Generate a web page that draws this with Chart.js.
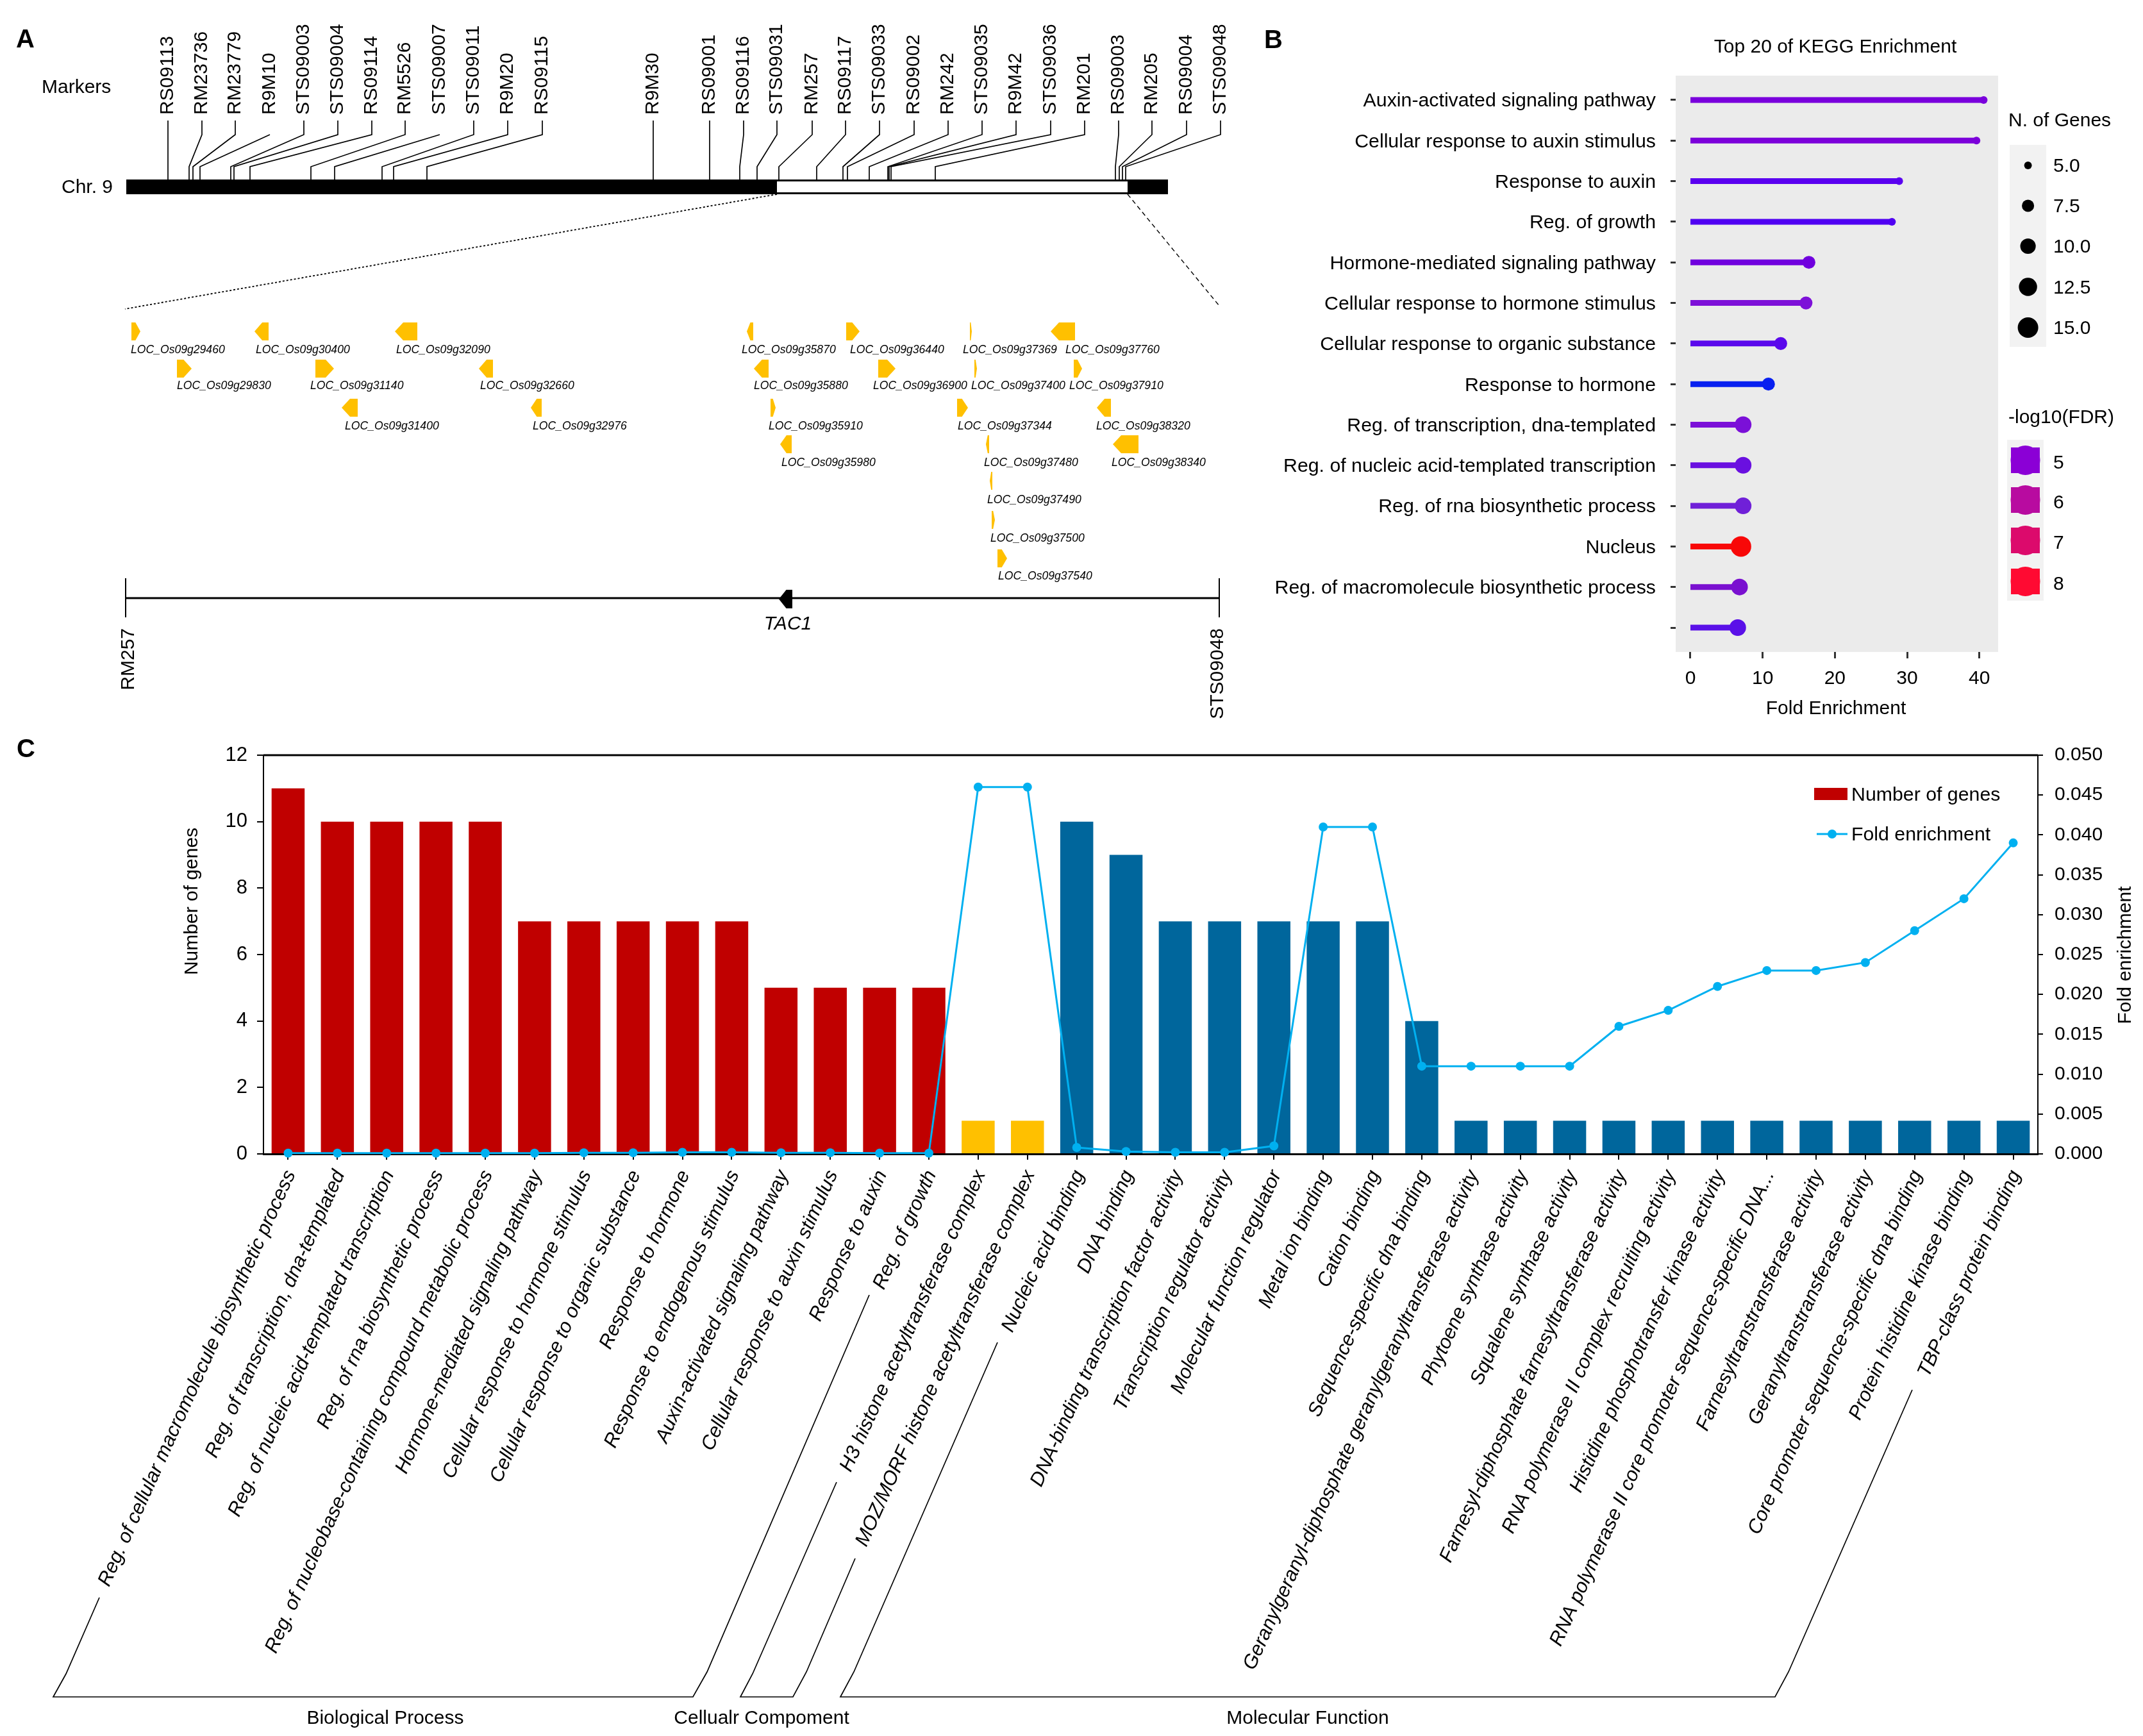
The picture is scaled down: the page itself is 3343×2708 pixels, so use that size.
<!DOCTYPE html>
<html><head><meta charset="utf-8">
<script src="https://cdn.jsdelivr.net/npm/chart.js@4"></script>
<style>html,body{margin:0;padding:0;background:#fff}canvas{position:absolute;left:0;top:0}</style>
</head><body>
<canvas id="panelA" width="3343" height="2708"></canvas>
<canvas id="panelB" width="3343" height="2708"></canvas>
<canvas id="panelC" width="3343" height="2708"></canvas>
<script>
// ---------- Panel A data (schematic map, values in map units) ----------
const markerNames = ["RS09113","RM23736","RM23779","R9M10","STS09003","STS09004","RS09114","RM5526","STS09007","STS09011","R9M20","RS09115","R9M30","RS09001","RS09116","STS09031","RM257","RS09117","STS09033","RS09002","RM242","STS09035","R9M42","STS09036","RM201","RS09003","RM205","RS09004","STS09048"];
const markerLabelPos = [262,315,367,421,474,527,580,632,686,739,792,846,1019,1107,1160,1212,1267,1319,1372,1426,1479,1532,1585,1639,1692,1745,1797,1851,1904];
const markerChromPos = [262,295,301,312,360,365,390,485,522,596,614,666,1019,1107,1154,1181,1215,1274,1315,1322,1356,1385,1387,1390,1459,1740,1746,1751,1756];
const markerNoStem = ["R9M10","STS09007"];
const chromSpan = [197,1822];
const regionSpan = [1212,1759];
const geneNames = ["LOC_Os09g29460","LOC_Os09g30400","LOC_Os09g32090","LOC_Os09g35870","LOC_Os09g36440","LOC_Os09g37369","LOC_Os09g37760","LOC_Os09g29830","LOC_Os09g31140","LOC_Os09g32660","LOC_Os09g35880","LOC_Os09g36900","LOC_Os09g37400","LOC_Os09g37910","LOC_Os09g31400","LOC_Os09g32976","LOC_Os09g35910","LOC_Os09g37344","LOC_Os09g38320","LOC_Os09g35980","LOC_Os09g37480","LOC_Os09g38340","LOC_Os09g37490","LOC_Os09g37500","LOC_Os09g37540"];
const geneStart = [205,397,616,1165,1320,1513,1639,276,492,747,1176,1370,1520,1675,533,828,1202,1493,1711,1217,1538,1736,1544,1547,1556];
const geneEnd   = [219,419,651,1175,1341,1516,1677,299,521,769,1199,1397,1524,1688,558,845,1210,1510,1733,1235,1543,1776,1548,1552,1571];
const geneStrand= [1,-1,-1,-1,1,1,-1,1,1,-1,-1,1,1,1,-1,-1,1,1,-1,-1,-1,-1,-1,1,1];
const geneTrack = [0,0,0,0,0,0,0,1,1,1,1,1,1,1,2,2,2,2,2,3,3,3,4,5,6];
const geneLabelPos = [204,399,618,1157,1326,1502,1662,276,484,749,1176,1362,1515,1668,538,831,1199,1494,1710,1219,1535,1734,1540,1545,1557];
const tac1Span = [1215,1236];
const goGroupNames = ["Biological Process","Cellualr Compoment","Molecular Function"];

// ---------- Panel B data ----------
const keggTerms = ["Auxin-activated signaling pathway","Cellular response to auxin stimulus","Response to auxin","Reg. of growth","Hormone-mediated signaling pathway","Cellular response to hormone stimulus","Cellular response to organic substance","Response to hormone","Reg. of transcription, dna-templated","Reg. of nucleic acid-templated transcription","Reg. of rna biosynthetic process","Nucleus","Reg. of macromolecule biosynthetic process",""];
const keggFold  = [40.6,39.6,28.9,27.9,16.4,16.0,12.5,10.8,7.3,7.3,7.3,7.0,6.8,6.55];
const keggGenes = [5,5,5,5,8,8,8,8,11,11,11,15,11,11];
const keggFdrColor = ["#7A00DC","#7C00DA","#5A00F0","#5000F2","#7000DE","#7D10D8","#5A08EC","#0820F0","#7B10D8","#6A10E0","#7020D8","#F80808","#7A10D0","#5A10E8"];
const sizeLegend = [5.0,7.5,10.0,12.5,15.0];
const fdrLegend = [5,6,7,8];
const fdrLegendColor = ["#8B00D6","#B80BA0","#DC0A6C","#FF0A32"];

// ---------- Panel C data ----------
const goTerms = ["Reg. of cellular macromolecule biosynthetic process","Reg. of transcription, dna-templated","Reg. of nucleic acid-templated transcription","Reg. of rna biosynthetic process","Reg. of nucleobase-containing compound metabolic process","Hormone-mediated signaling pathway","Cellular response to hormone stimulus","Cellular response to organic substance","Response to hormone","Response to endogenous stimulus","Auxin-activated signaling pathway","Cellular response to auxin stimulus","Response to auxin","Reg. of growth","H3 histone acetyltransferase complex","MOZ/MORF histone acetyltransferase complex","Nucleic acid binding","DNA binding","DNA-binding transcription factor activity","Transcription regulator activity","Molecular function regulator","Metal ion binding","Cation binding","Sequence-specific dna binding","Geranylgeranyl-diphosphate geranylgeranyltransferase activity","Phytoene synthase activity","Squalene synthase activity","Farnesyl-diphosphate farnesyltransferase activity","RNA polymerase II complex recruiting activity","Histidine phosphotransfer kinase activity","RNA polymerase II core promoter sequence-specific DNA...","Farnesyltranstransferase activity","Geranyltranstransferase activity","Core promoter sequence-specific dna binding","Protein histidine kinase binding","TBP-class protein binding"];
const goCounts = [11,10,10,10,10,7,7,7,7,7,5,5,5,5,1,1,10,9,7,7,7,7,7,4,1,1,1,1,1,1,1,1,1,1,1,1];
const goFold = [0.0001,0.0001,0.0001,0.0001,0.0001,0.0001,0.00015,0.00015,0.0002,0.0002,0.00015,0.00015,0.0001,0.0001,0.046,0.046,0.0008,0.0003,0.0002,0.0002,0.001,0.041,0.041,0.011,0.011,0.011,0.011,0.016,0.018,0.021,0.023,0.023,0.024,0.028,0.032,0.039];
const goGroup = [0,0,0,0,0,0,0,0,0,0,0,0,0,0,1,1,2,2,2,2,2,2,2,2,2,2,2,2,2,2,2,2,2,2,2,2];

// ---------- shared helpers ----------
const FONT = '"Liberation Sans", Arial, sans-serif';
const W = 3343, H = 2708;
Chart.defaults.font.family = FONT;
Chart.defaults.color = '#000';
function textLayer(id, items){
  return {id, afterDraw(chart){
    const c = chart.ctx;
    for(const it of items){
      c.save();
      c.translate(it.x, it.y);
      if(it.rot) c.rotate(it.rot*Math.PI/180);
      c.font = (it.style||'')+' '+(it.weight||'')+' '+(it.size||30)+'px '+FONT;
      c.fillStyle = '#000';
      c.textAlign = it.align||'left';
      c.textBaseline = it.base||'middle';
      c.fillText(it.t,0,0);
      c.restore();
    }
  }};
}
function pin(size){ return function(s){ if(s.isHorizontal()){s.height=size;} else {s.width=size;} s.paddingLeft=0;s.paddingRight=0;s.paddingTop=0;s.paddingBottom=0; }; }

// ---------- Panel A: map ----------
const trackTop = [503,561,622,679,736,797,857];
const trackLabelY = [545,601,664,721,779,839,898];
const trackH = 28;
const BAR_TOP=280, BAR_BOT=303, STEM_TOP=188, STEM_BOT=210, ELBOW=260;
const GOLD='#FFC000';
function line(pts,color,width,dash){return {type:'scatter',showLine:true,data:pts,borderColor:color,borderWidth:width,borderDash:dash||[],pointRadius:0,fill:false,clip:false,tension:0};}
function poly(pts,color){return {type:'scatter',showLine:true,data:pts.concat([pts[0]]),borderColor:color,backgroundColor:color,borderWidth:0,pointRadius:0,fill:'shape',clip:false,tension:0};}
function arrow(a,b,dir,top,h){
  const w=b-a, tip=Math.min(w*0.55,13), mid=top+h/2;
  if(dir>0) return [{x:a,y:top},{x:b-tip,y:top},{x:b,y:mid},{x:b-tip,y:top+h},{x:a,y:top+h}];
  return [{x:b,y:top},{x:a+tip,y:top},{x:a,y:mid},{x:a+tip,y:top+h},{x:b,y:top+h}];
}
const aSets=[];
aSets.push(poly([{x:chromSpan[0],y:BAR_TOP},{x:chromSpan[1],y:BAR_TOP},{x:chromSpan[1],y:BAR_BOT},{x:chromSpan[0],y:BAR_BOT}],'#000'));
aSets.push(poly([{x:regionSpan[0],y:BAR_TOP+3},{x:regionSpan[1],y:BAR_TOP+3},{x:regionSpan[1],y:BAR_BOT-3},{x:regionSpan[0],y:BAR_BOT-3}],'#fff'));
markerNames.forEach((n,i)=>{
  const pts=[];
  if(!markerNoStem.includes(n)) pts.push({x:markerLabelPos[i],y:STEM_TOP});
  pts.push({x:markerLabelPos[i],y:STEM_BOT},{x:markerChromPos[i],y:ELBOW},{x:markerChromPos[i],y:BAR_TOP});
  aSets.push(line(pts,'#000',1.7));
});
aSets.push(line([{x:regionSpan[0],y:BAR_BOT},{x:195,y:482}],'#000',1.8,[3,3]));
aSets.push(line([{x:regionSpan[1],y:BAR_BOT},{x:1902,y:477}],'#000',1.4,[7,5]));
geneNames.forEach((n,i)=>aSets.push(poly(arrow(geneStart[i],geneEnd[i],geneStrand[i],trackTop[geneTrack[i]],trackH),GOLD)));
aSets.push(line([{x:196,y:933},{x:1902,y:933}],'#000',3));
aSets.push(line([{x:196,y:902},{x:196,y:963}],'#000',2));
aSets.push(line([{x:1902,y:902},{x:1902,y:963}],'#000',2));
aSets.push(poly(arrow(tac1Span[0],tac1Span[1],-1,920,29),'#000'));
// category brackets of panel C
const ln=(arr)=>line(arr.map(p=>({x:p[0],y:p[1]})),'#000',1.7);
aSets.push(ln([[155,2492],[103,2611],[83,2647],[1081,2647],[1103,2608],[1356,2020]]));
aSets.push(ln([[1305,2312],[1174,2611],[1155,2647],[1237,2647],[1258,2608],[1334,2431]]));
aSets.push(ln([[1556,2094],[1332,2608],[1311,2647],[2769,2647],[2790,2608],[2983,2168]]));
aSets.forEach((d,i)=>{d.order=-i;});

const aText=[
 {t:'A',x:25,y:63,size:40,weight:'bold'},
 {t:'Markers',x:65,y:137,size:30},
 {t:'Chr. 9',x:176,y:293,size:30,align:'right'},
 {t:'TAC1',x:1229,y:974,size:30,style:'italic',align:'center'},
 {t:'RM257',x:201,y:980,size:30,rot:-90,align:'right'},
 {t:'STS09048',x:1900,y:980,size:30,rot:-90,align:'right'},
 {t:goGroupNames[0],x:601,y:2681,size:30,align:'center'},
 {t:goGroupNames[1],x:1188,y:2681,size:30,align:'center'},
 {t:goGroupNames[2],x:2040,y:2681,size:30,align:'center'},
];
markerNames.forEach((n,i)=>aText.push({t:n,x:markerLabelPos[i],y:179,size:30,rot:-90,align:'left'}));
geneNames.forEach((n,i)=>aText.push({t:n,x:geneLabelPos[i],y:trackLabelY[geneTrack[i]]+1,size:17.6,style:'italic'}));

new Chart(document.getElementById('panelA'),{
  type:'scatter',
  data:{datasets:aSets},
  options:{responsive:false,animation:false,devicePixelRatio:1,layout:{padding:0},
    plugins:{legend:{display:false},tooltip:{enabled:false}},
    scales:{x:{type:'linear',display:false,min:0,max:W},y:{type:'linear',display:false,min:0,max:H,reverse:true}}},
  plugins:[textLayer('aText',aText)]
});

// ---------- Panel B: lollipop ----------
const B={l:2614,r:3117,t:118,b:1017};
const radius=n=>Math.sqrt(36+22*(n-5));
const bSets=keggTerms.map((t,i)=>({
  type:'scatter',showLine:true,
  data:[{x:0,y:i},{x:keggFold[i],y:i}],
  borderColor:keggFdrColor[i],backgroundColor:keggFdrColor[i],borderWidth:9,
  pointRadius:[0,radius(keggGenes[i])],pointBackgroundColor:keggFdrColor[i],pointBorderWidth:0,clip:false,tension:0
}));
const bText=[
 {t:'B',x:1972,y:64,size:40,weight:'bold'},
 {t:'Top 20 of KEGG Enrichment',x:2863,y:74,size:30,align:'center'},
 {t:'Fold Enrichment',x:2864,y:1106,size:30,align:'center'},
 {t:'N. of Genes',x:3133,y:189,size:30},
 {t:'-log10(FDR)',x:3133,y:652,size:30},
];
const sizeY=[258,321,384,447.5,511], fdrY=[721,783,846,910];
sizeLegend.forEach((v,i)=>bText.push({t:v.toFixed(1),x:3203,y:sizeY[i]+2,size:30}));
fdrLegend.forEach((v,i)=>bText.push({t:String(v),x:3203,y:fdrY[i]+2,size:30}));
const bBack={id:'bBack',beforeDraw(chart){
  const c=chart.ctx,a=chart.chartArea;
  c.save();
  c.fillStyle='#EBEBEB';c.fillRect(a.left,a.top,a.right-a.left,a.bottom-a.top);
  c.fillStyle='#F2F2F2';c.fillRect(3135,226,57,315);c.fillRect(3131,686,57,251);
  c.fillStyle='#000';
  sizeLegend.forEach((v,i)=>{c.beginPath();c.arc(3163.6,sizeY[i],radius(v),0,7);c.fill();});
  fdrLegend.forEach((v,i)=>{const y=fdrY[i]-3;c.fillStyle=fdrLegendColor[i];c.fillRect(3137,y-20,45,40);c.beginPath();c.arc(3159.5,y,23,0,7);c.fill();});
  c.restore();
}};
new Chart(document.getElementById('panelB'),{
  type:'scatter',
  data:{datasets:bSets},
  options:{responsive:false,animation:false,devicePixelRatio:1,
    layout:{padding:{left:B.l-700,top:B.t,right:W-B.r,bottom:H-B.b-100}},
    plugins:{legend:{display:false},tooltip:{enabled:false}},
    scales:{
      x:{type:'linear',min:-2.04,max:42.6,afterFit:pin(100),border:{display:false},
         grid:{drawOnChartArea:false,drawTicks:true,tickLength:10,color:'#333',lineWidth:3},
         ticks:{stepSize:10,includeBounds:false,padding:14,font:{size:30},color:'#000',maxRotation:0}},
      y:{type:'linear',min:-0.6,max:13.6,reverse:true,afterFit:pin(700),border:{display:false},
         grid:{drawOnChartArea:false,drawTicks:true,tickLength:8,color:'#333',lineWidth:3},
         ticks:{stepSize:1,includeBounds:false,padding:23,labelOffset:2,font:{size:30.3},color:'#000',autoSkip:false,callback:v=>keggTerms[v]}}
    }},
  plugins:[bBack,textLayer('bText',bText)]
});

// ---------- Panel C: bars + line ----------
const C={l:411,r:3179,t:1178,b:1800};
const groupColor=['#C00000','#FFC000','#00669C'];
const LINE='#00B0F0';
const cText=[
 {t:'C',x:26,y:1170,size:40,weight:'bold'},
 {t:'Number of genes',x:300,y:1406,size:30,rot:-90,align:'center'},
 {t:'Fold enrichment',x:3316,y:1490,size:30,rot:-90,align:'center'},
 {t:'Number of genes',x:2888,y:1241,size:30.3},
 {t:'Fold enrichment',x:2888,y:1303,size:30.3},
];
const cFrame={id:'cFrame',afterDraw(chart){
  const c=chart.ctx,a=chart.chartArea;
  c.save();
  c.strokeStyle='#000';c.lineWidth=3;c.beginPath();c.moveTo(a.left,a.top);c.lineTo(a.right,a.top);c.stroke();
  c.fillStyle='#C00000';c.fillRect(2830,1229,52,19);
  c.strokeStyle=LINE;c.lineWidth=3;c.beginPath();c.moveTo(2834,1301);c.lineTo(2882,1301);c.stroke();
  c.fillStyle=LINE;c.beginPath();c.arc(2858,1301,7,0,7);c.fill();
  c.restore();
}};
new Chart(document.getElementById('panelC'),{
  data:{labels:goTerms,datasets:[
    {type:'line',label:'Fold enrichment',data:goFold,yAxisID:'y2',order:0,borderColor:LINE,backgroundColor:LINE,borderWidth:3,pointRadius:7,pointBorderWidth:0,pointBackgroundColor:LINE,clip:false,tension:0},
    {type:'bar',label:'Number of genes',data:goCounts,yAxisID:'y',order:1,backgroundColor:goGroup.map(g=>groupColor[g]),barPercentage:0.67,categoryPercentage:1}
  ]},
  options:{responsive:false,animation:false,devicePixelRatio:1,
    layout:{padding:{left:0,top:C.t,right:0,bottom:0}},
    plugins:{legend:{display:false},tooltip:{enabled:false}},
    scales:{
      x:{type:'category',offset:true,afterFit:pin(H-C.b),border:{display:true,color:'#000',width:3},
         grid:{offset:false,drawOnChartArea:false,drawTicks:true,tickLength:9,color:'#000',lineWidth:2},
         ticks:{autoSkip:false,minRotation:65.7,maxRotation:65.7,padding:11,labelOffset:4,font:{size:30.7,style:'italic'},color:'#000'}},
      y:{type:'linear',position:'left',min:0,max:12,afterFit:pin(C.l),border:{display:true,color:'#000',width:2},
         grid:{drawOnChartArea:false,drawTicks:true,tickLength:10,color:'#000',lineWidth:2},
         ticks:{stepSize:2,padding:15,font:{size:31},color:'#000'}},
      y2:{type:'linear',position:'right',min:0,max:0.05,afterFit:pin(W-C.r),border:{display:true,color:'#000',width:2},
         grid:{drawOnChartArea:false,drawTicks:true,tickLength:8,color:'#000',lineWidth:2},
         ticks:{stepSize:0.005,padding:18,font:{size:30},color:'#000',callback:v=>v.toFixed(3)}}
    }},
  plugins:[cFrame,textLayer('cText',cText)]
});
</script>
</body></html>
